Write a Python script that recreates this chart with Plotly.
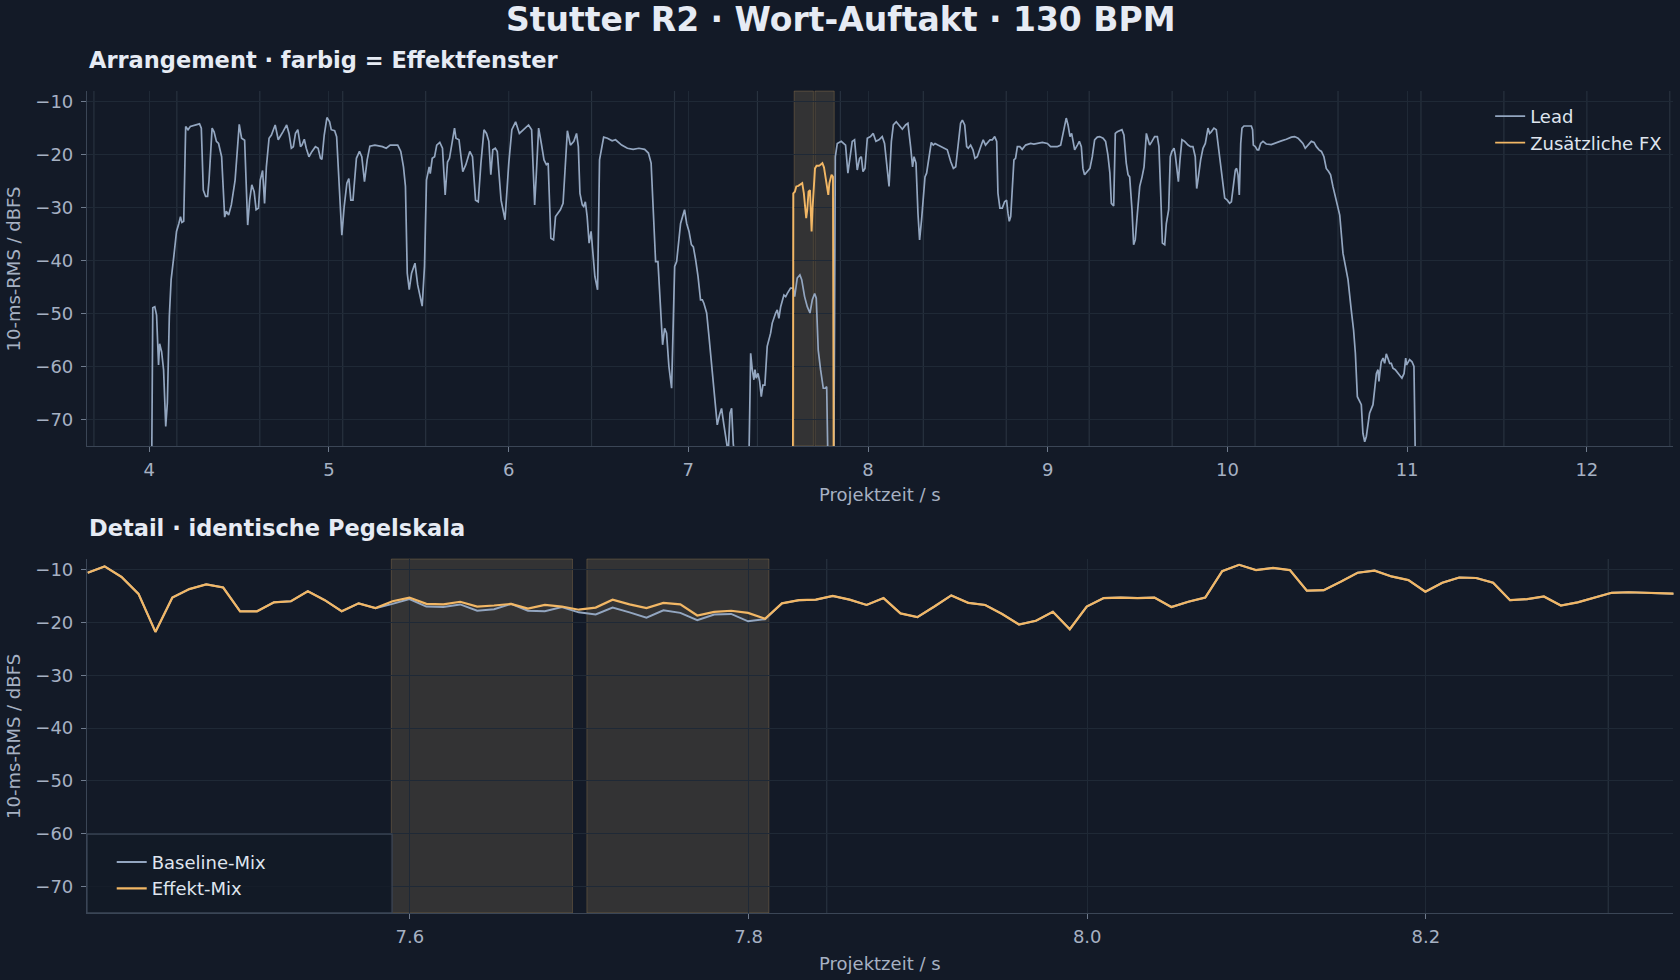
import math
import plotly.graph_objects as go

BPM = 130

# Arrangement: Lead-Spur, 10-ms-RMS in dBFS (Stützpunkte aus dem Verlauf)
lead_t = [
    4.014, 4.020, 4.031, 4.041, 4.052, 4.058, 4.069, 4.080, 4.092, 4.101,
    4.112, 4.122, 4.137, 4.152, 4.165, 4.174, 4.182, 4.192, 4.203, 4.216,
    4.229, 4.254, 4.280, 4.290, 4.301, 4.314, 4.325, 4.333, 4.350, 4.361,
    4.374, 4.386, 4.403, 4.420, 4.429, 4.442, 4.457, 4.478, 4.501, 4.514,
    4.531, 4.548, 4.559, 4.571, 4.584, 4.595, 4.608, 4.618, 4.631, 4.642,
    4.652, 4.667, 4.680, 4.701, 4.718, 4.744, 4.765, 4.778, 4.791, 4.802,
    4.814, 4.827, 4.842, 4.850, 4.863, 4.874, 4.889, 4.906, 4.925, 4.940,
    4.953, 4.961, 4.974, 4.989, 5.004, 5.013, 5.032, 5.043, 5.055, 5.064,
    5.072, 5.085, 5.100, 5.111, 5.122, 5.134, 5.143, 5.153, 5.170, 5.183,
    5.198, 5.213, 5.228, 5.256, 5.298, 5.319, 5.341, 5.383, 5.400, 5.415,
    5.426, 5.436, 5.447, 5.460, 5.479, 5.494, 5.519, 5.532, 5.543, 5.558,
    5.564, 5.575, 5.588, 5.600, 5.617, 5.632, 5.647, 5.660, 5.671, 5.686,
    5.699, 5.707, 5.724, 5.745, 5.762, 5.784, 5.799, 5.816, 5.831, 5.846,
    5.863, 5.877, 5.890, 5.901, 5.912, 5.926, 5.937, 5.958, 5.980, 6.001,
    6.018, 6.039, 6.060, 6.086, 6.111, 6.128, 6.145, 6.154, 6.167, 6.182,
    6.197, 6.210, 6.220, 6.235, 6.250, 6.261, 6.278, 6.288, 6.303, 6.316,
    6.327, 6.344, 6.363, 6.378, 6.388, 6.397, 6.410, 6.418, 6.427, 6.437,
    6.448, 6.459, 6.469, 6.480, 6.495, 6.506, 6.529, 6.550, 6.576, 6.595,
    6.629, 6.661, 6.693, 6.725, 6.757, 6.778, 6.793, 6.805, 6.818, 6.831,
    6.842, 6.857, 6.868, 6.879, 6.892, 6.907, 6.924, 6.935, 6.957, 6.979,
    6.991, 7.004, 7.017, 7.028, 7.041, 7.054, 7.068, 7.078, 7.087, 7.102,
    7.115, 7.133, 7.152, 7.161, 7.174, 7.185, 7.198, 7.213, 7.222, 7.232,
    7.241, 7.250, 7.263, 7.337, 7.343, 7.347, 7.356, 7.365, 7.371, 7.378,
    7.388, 7.397, 7.406, 7.415, 7.426, 7.439, 7.458, 7.467, 7.486, 7.495,
    7.504, 7.514, 7.532, 7.542, 7.551, 7.569, 7.584, 7.592, 7.606, 7.621,
    7.631, 7.647, 7.662, 7.677, 7.690, 7.703, 7.712, 7.723, 7.736, 7.751,
    7.762, 7.770, 7.777, 7.810, 7.818, 7.829, 7.851, 7.875, 7.888, 7.899,
    7.912, 7.925, 7.940, 7.953, 7.963, 7.972, 7.983, 7.996, 8.014, 8.029,
    8.044, 8.061, 8.079, 8.092, 8.104, 8.117, 8.130, 8.141, 8.157, 8.172,
    8.191, 8.209, 8.222, 8.237, 8.248, 8.256, 8.267, 8.278, 8.287, 8.298,
    8.308, 8.317, 8.326, 8.339, 8.352, 8.363, 8.373, 8.389, 8.404, 8.423,
    8.441, 8.460, 8.475, 8.488, 8.500, 8.515, 8.525, 8.538, 8.549, 8.558,
    8.571, 8.584, 8.595, 8.608, 8.627, 8.641, 8.654, 8.664, 8.679, 8.692,
    8.705, 8.716, 8.723, 8.734, 8.747, 8.760, 8.771, 8.779, 8.786, 8.794,
    8.805, 8.812, 8.821, 8.831, 8.845, 8.858, 8.877, 8.905, 8.923, 8.942,
    8.970, 8.998, 9.016, 9.035, 9.053, 9.072, 9.085, 9.094, 9.103, 9.113,
    9.124, 9.133, 9.142, 9.150, 9.165, 9.176, 9.187, 9.196, 9.205, 9.220,
    9.235, 9.248, 9.261, 9.276, 9.289, 9.308, 9.322, 9.335, 9.346, 9.354,
    9.367, 9.376, 9.387, 9.413, 9.424, 9.437, 9.447, 9.456, 9.469, 9.478,
    9.487, 9.499, 9.512, 9.525, 9.536, 9.549, 9.558, 9.567, 9.580, 9.595,
    9.610, 9.619, 9.628, 9.638, 9.651, 9.660, 9.673, 9.682, 9.691, 9.703,
    9.710, 9.719, 9.727, 9.736, 9.747, 9.762, 9.781, 9.795, 9.808, 9.821,
    9.829, 9.836, 9.851, 9.864, 9.877, 9.892, 9.901, 9.910, 9.925, 9.938,
    9.947, 9.962, 9.975, 9.985, 9.999, 10.012, 10.022, 10.033, 10.044, 10.051,
    10.059, 10.066, 10.074, 10.081, 10.092, 10.114, 10.133, 10.140, 10.144, 10.155,
    10.166, 10.174, 10.185, 10.198, 10.216, 10.244, 10.272, 10.300, 10.328, 10.356,
    10.374, 10.393, 10.407, 10.420, 10.433, 10.448, 10.467, 10.482, 10.495, 10.510,
    10.523, 10.537, 10.550, 10.563, 10.574, 10.587, 10.606, 10.625, 10.643, 10.656,
    10.671, 10.689, 10.702, 10.712, 10.723, 10.736, 10.745, 10.754, 10.764, 10.773,
    10.791, 10.810, 10.819, 10.829, 10.838, 10.843, 10.849, 10.856, 10.866, 10.875,
    10.884, 10.893, 10.903, 10.912, 10.921, 10.934, 10.949, 10.960, 10.971, 10.983,
    10.992, 10.997, 11.005, 11.014, 11.027, 11.038, 11.046,
]
lead_db = [
    -78.0, -48.9, -48.7, -50.3, -59.7, -55.7, -57.2, -60.6, -71.3, -66.9,
    -50.6, -43.6, -39.2, -34.5, -33.0, -31.7, -32.8, -32.6, -14.7, -15.3,
    -14.7, -14.4, -14.2, -15.0, -26.7, -27.9, -27.9, -24.8, -15.0, -15.7,
    -17.5, -17.9, -20.4, -31.8, -30.7, -31.4, -29.5, -24.8, -14.3, -16.9,
    -17.3, -33.3, -28.6, -25.7, -27.0, -30.4, -30.1, -24.8, -23.0, -29.2,
    -22.3, -16.9, -16.3, -14.4, -17.2, -15.7, -14.4, -16.0, -18.8, -18.5,
    -16.0, -15.3, -18.5, -18.2, -17.1, -18.8, -20.4, -19.4, -18.5, -18.8,
    -20.7, -20.9, -16.3, -13.0, -13.8, -15.3, -15.5, -16.6, -24.8, -32.0,
    -35.2, -29.8, -25.4, -24.5, -28.6, -28.6, -24.8, -20.7, -19.4, -20.4,
    -25.1, -21.0, -18.4, -18.2, -18.5, -18.8, -18.2, -18.2, -19.4, -22.3,
    -26.0, -42.4, -45.5, -42.4, -40.5, -44.6, -48.6, -41.1, -24.8, -22.3,
    -23.6, -20.7, -20.4, -18.2, -17.7, -18.8, -27.6, -21.4, -20.7, -17.2,
    -15.0, -16.9, -17.2, -23.2, -21.9, -19.4, -20.4, -28.6, -28.9, -21.6,
    -15.3, -16.0, -17.5, -23.8, -19.1, -18.8, -19.4, -28.6, -32.3, -21.6,
    -15.3, -13.8, -16.0, -15.2, -14.4, -15.3, -29.5, -23.8, -15.0, -17.9,
    -21.0, -21.9, -21.6, -35.8, -36.1, -31.7, -30.8, -30.4, -29.2, -21.6,
    -15.5, -18.2, -17.5, -16.0, -18.5, -27.3, -29.5, -29.8, -28.9, -31.7,
    -36.7, -34.5, -39.2, -43.0, -45.5, -21.0, -16.7, -16.9, -17.4, -17.2,
    -18.2, -18.8, -19.0, -18.8, -19.0, -19.7, -21.6, -31.1, -40.2, -40.2,
    -46.2, -55.9, -52.8, -53.7, -60.0, -64.1, -41.1, -40.2, -33.0, -30.4,
    -33.0, -34.5, -37.0, -37.4, -39.9, -43.0, -47.4, -47.4, -48.1, -49.9,
    -54.3, -61.3, -68.8, -71.0, -69.1, -67.9, -71.0, -74.5, -76.4, -68.8,
    -67.9, -74.5, -78.2, -78.2, -68.8, -57.5, -60.6, -62.5, -60.6, -62.2,
    -61.3, -62.8, -65.7, -63.5, -63.5, -56.2, -53.7, -51.8, -49.9, -49.3,
    -50.9, -48.7, -46.5, -46.8, -46.2, -45.2, -45.2, -46.8, -43.3, -42.7,
    -43.6, -46.8, -48.7, -49.9, -47.4, -46.2, -47.1, -56.9, -60.6, -64.1,
    -64.1, -63.8, -78.2, -78.2, -20.4, -17.9, -17.5, -18.2, -23.5, -20.4,
    -17.5, -17.2, -22.9, -20.7, -20.4, -23.2, -22.6, -16.9, -16.6, -16.0,
    -17.5, -17.2, -16.6, -17.9, -22.3, -26.0, -17.5, -14.4, -13.8, -14.4,
    -15.2, -14.4, -14.1, -18.5, -22.3, -20.4, -21.6, -31.1, -36.1, -32.3,
    -27.9, -24.2, -23.5, -20.1, -17.7, -18.2, -17.9, -18.2, -18.5, -18.8,
    -19.1, -21.3, -22.6, -22.3, -19.1, -14.1, -13.5, -14.4, -18.5, -18.8,
    -18.2, -19.1, -20.7, -20.4, -18.5, -17.2, -18.2, -17.7, -17.2, -17.2,
    -16.6, -17.5, -27.3, -30.1, -30.1, -28.9, -28.6, -31.1, -32.6, -31.7,
    -23.5, -21.0, -20.7, -18.5, -18.5, -19.0, -18.2, -17.9, -18.0, -17.9,
    -17.7, -17.9, -18.5, -18.5, -18.5, -18.2, -16.0, -14.7, -13.1, -14.4,
    -16.6, -16.0, -17.5, -19.1, -18.2, -17.5, -18.5, -22.6, -23.8, -23.2,
    -22.6, -20.4, -17.2, -16.7, -16.6, -16.9, -17.5, -20.1, -23.5, -29.2,
    -29.7, -16.0, -15.7, -15.3, -16.3, -21.6, -23.8, -24.2, -30.4, -37.0,
    -36.1, -31.1, -26.0, -24.2, -22.3, -16.0, -17.2, -18.2, -17.5, -16.6,
    -16.6, -18.5, -26.7, -36.7, -37.0, -33.0, -30.4, -20.4, -19.4, -18.8,
    -20.1, -22.3, -25.1, -21.0, -17.2, -17.5, -18.2, -18.5, -18.5, -20.4,
    -26.4, -24.8, -21.0, -18.8, -17.9, -15.0, -16.0, -15.7, -15.0, -15.3,
    -17.9, -21.9, -26.0, -28.2, -28.6, -29.2, -28.9, -26.0, -22.9, -22.6,
    -23.8, -27.6, -17.9, -15.0, -14.6, -14.6, -14.6, -15.3, -18.2, -18.5,
    -19.1, -19.1, -17.9, -17.5, -18.0, -18.1, -17.7, -17.4, -17.1, -16.7,
    -16.6, -16.9, -17.4, -17.9, -18.8, -18.2, -17.5, -17.7, -18.5, -19.1,
    -19.4, -20.4, -22.6, -23.2, -23.8, -26.0, -28.6, -31.4, -38.6, -40.8,
    -43.6, -49.3, -53.1, -57.5, -65.7, -66.6, -67.2, -72.6, -74.2, -73.2,
    -68.8, -67.2, -63.8, -61.3, -60.6, -62.8, -60.9, -59.1, -58.4, -59.4,
    -57.6, -58.4, -59.4, -59.4, -60.3, -60.6, -61.3, -61.9, -62.2, -61.3,
    -58.4, -59.7, -59.1, -58.7, -59.1, -60.0, -78.2,
]

# Zusätzliche FX im Effektfenster
fx_t = [
    7.582, 7.584, 7.593, 7.601, 7.612, 7.621, 7.634, 7.643, 7.651, 7.656,
    7.662, 7.669, 7.677, 7.681, 7.686, 7.692, 7.699, 7.705, 7.714, 7.727,
    7.736, 7.746, 7.755, 7.764, 7.773, 7.779, 7.785, 7.792, 7.797, 7.805,
    7.809,
]
fx_db = [
    -80.0, -27.3, -27.0, -26.0, -25.9, -25.7, -25.4, -27.3, -29.8, -32.0,
    -30.4, -27.0, -26.7, -31.1, -34.5, -29.8, -24.8, -22.6, -22.1, -22.1,
    -21.9, -21.6, -22.4, -24.2, -26.7, -27.6, -25.4, -24.2, -23.8, -24.2,
    -80.0,
]

# Effektfenster (s)
win_start = [7.589, 7.7045]
win_end = [7.696, 7.812]

# Detail: 10-ms-Frames ab detail_t0
detail_t0 = 7.4097
detail_hop = 0.01
baseline_db = [
    -10.6, -9.4, -11.4, -14.6, -21.8, -15.3, -13.7, -12.8, -13.4, -17.9,
    -17.9, -16.2, -16.0, -14.1, -15.8, -17.9, -16.4, -17.3, -16.5, -15.6,
    -17.0, -17.1, -16.6, -17.8, -17.5, -16.5, -17.8, -17.9, -17.1, -18.1,
    -18.5, -17.2, -18.1, -19.1, -17.7, -18.2, -19.6, -18.5, -18.4, -19.8,
    -19.4, -16.4, -15.8, -15.7, -15.0, -15.7, -16.7, -15.4, -18.3, -19.0,
    -17.0, -14.9, -16.3, -16.7, -18.4, -20.4, -19.7, -18.0, -21.3, -17.0,
    -15.4, -15.3, -15.4, -15.3, -17.1, -16.1, -15.3, -10.3, -9.1, -10.1,
    -9.7, -10.1, -14.0, -13.9, -12.3, -10.6, -10.2, -11.3, -12.0, -14.2,
    -12.5, -11.5, -11.6, -12.5, -15.8, -15.6, -15.1, -16.8, -16.2, -15.3,
    -14.4, -14.3, -14.4, -14.6, -14.6,
]
effekt_db = [
    -10.6, -9.4, -11.4, -14.6, -21.8, -15.3, -13.7, -12.8, -13.4, -17.9,
    -17.9, -16.2, -16.0, -14.1, -15.8, -17.9, -16.4, -17.3, -16.0, -15.3,
    -16.5, -16.6, -16.1, -17.0, -16.8, -16.5, -17.4, -16.7, -17.0, -17.6,
    -17.2, -15.7, -16.6, -17.3, -16.3, -16.6, -18.7, -18.0, -17.8, -18.2,
    -19.3, -16.4, -15.8, -15.7, -15.0, -15.7, -16.7, -15.4, -18.3, -19.0,
    -17.0, -14.9, -16.3, -16.7, -18.4, -20.4, -19.7, -18.0, -21.3, -17.0,
    -15.4, -15.3, -15.4, -15.3, -17.1, -16.1, -15.3, -10.3, -9.1, -10.1,
    -9.7, -10.1, -14.0, -13.9, -12.3, -10.6, -10.2, -11.3, -12.0, -14.2,
    -12.5, -11.5, -11.6, -12.5, -15.8, -15.6, -15.1, -16.8, -16.2, -15.3,
    -14.4, -14.3, -14.4, -14.6, -14.6,
]
detail_t = [round(detail_t0 + i * detail_hop, 4) for i in range(len(effekt_db))]

BG = "#131a27"
GRID = "#1f2936"
BEAT = "#28323f"
SPINE = "#3b4656"
TICK = "#a6b1c3"
TITLE = "#e6ebf4"
LEAD = "#93a6c0"
FX = "#f2b765"
FONT = "DejaVu Sans"

fig = go.Figure()

fig.add_trace(go.Scatter(x=lead_t, y=lead_db, mode="lines", name="Lead",
                         line=dict(color=LEAD, width=1.7),
                         xaxis="x", yaxis="y", legend="legend"))
fig.add_trace(go.Scatter(x=fx_t, y=fx_db, mode="lines", name="Zusätzliche FX",
                         line=dict(color=FX, width=1.9),
                         xaxis="x", yaxis="y", legend="legend"))
fig.add_trace(go.Scatter(x=detail_t, y=baseline_db, mode="lines", name="Baseline-Mix",
                         line=dict(color=LEAD, width=2),
                         xaxis="x2", yaxis="y2", legend="legend2"))
fig.add_trace(go.Scatter(x=detail_t, y=effekt_db, mode="lines", name="Effekt-Mix",
                         line=dict(color=FX, width=2.2),
                         xaxis="x2", yaxis="y2", legend="legend2"))

top_range = [3.654, 12.482]
det_range = [7.4093, 8.3462]

# Taktschläge als senkrechte Linien
beat = 60.0 / BPM
shapes = []
for xref, rng in (("x", top_range), ("x2", det_range)):
    k0 = math.ceil(rng[0] / beat)
    k1 = math.floor(rng[1] / beat)
    for k in range(k0, k1 + 1):
        shapes.append(dict(type="line", xref=xref, yref=xref.replace("x", "y") + " domain",
                           x0=k * beat, x1=k * beat, y0=0, y1=1,
                           line=dict(color=BEAT, width=1.2), layer="below"))

# Effektfenster
for xref in ("x", "x2"):
    for a, b in zip(win_start, win_end):
        shapes.append(dict(type="rect", xref=xref, yref=xref.replace("x", "y") + " domain",
                           x0=a, x1=b, y0=0, y1=1,
                           fillcolor="rgba(232,195,125,0.15)",
                           line=dict(color="rgba(240,185,105,0.22)", width=1),
                           layer="below"))

# Legendenrahmen unten links
shapes.append(dict(type="rect", xref="x2 domain", yref="y2 domain",
                   x0=0, x1=0.1923, y0=0, y1=0.223,
                   fillcolor="rgba(19,26,39,0.8)",
                   line=dict(color=SPINE, width=1.2), layer="above"))

axis_common = dict(showgrid=True, gridcolor=GRID, gridwidth=1, zeroline=False,
                   showline=True, linecolor=SPINE, linewidth=1.2,
                   ticks="outside", ticklen=5, tickwidth=1.2, tickcolor="#6f7b8d",
                   tickfont=dict(family=FONT, size=18, color=TICK))

fig.update_layout(
    width=1680, height=980,
    margin=dict(l=0, r=0, t=0, b=0),
    paper_bgcolor=BG, plot_bgcolor=BG,
    font=dict(family=FONT, size=18, color=TICK),
    xaxis=dict(domain=[0.0518, 0.9961], anchor="y", range=top_range,
               tick0=0, dtick=1, ticklabelstandoff=2, **axis_common),
    yaxis=dict(domain=[0.5449, 0.9071], anchor="x", range=[-75, -8],
               tick0=0, dtick=10, ticklabelstandoff=4, **axis_common),
    xaxis2=dict(domain=[0.0518, 0.9961], anchor="y2", range=det_range,
                tick0=0, dtick=0.2, tickformat=".1f", ticklabelstandoff=2, **axis_common),
    yaxis2=dict(domain=[0.0684, 0.4296], anchor="x2", range=[-75, -8],
                tick0=0, dtick=10, ticklabelstandoff=4, **axis_common),
    shapes=shapes,
    showlegend=True,
    legend=dict(x=0.887, y=0.9, xanchor="left", yanchor="top",
                bgcolor="rgba(0,0,0,0)", borderwidth=0,
                font=dict(family=FONT, size=18, color="#dfe5ee")),
    legend2=dict(x=0.0665, y=0.139, xanchor="left", yanchor="top",
                 bgcolor="rgba(0,0,0,0)", borderwidth=0,
                 font=dict(family=FONT, size=18, color="#dfe5ee")),
)

annotations = [
    dict(text="Stutter R2 · Wort-Auftakt · 130 BPM", x=0.5, y=0.9806,
         xanchor="center", yanchor="middle",
         font=dict(family=FONT, size=33, color=TITLE, weight="bold")),
    dict(text="Arrangement · farbig = Effektfenster", x=0.0518, y=0.9388,
         xanchor="left", yanchor="middle",
         font=dict(family=FONT, size=22.5, color=TITLE, weight="bold")),
    dict(text="Detail · identische Pegelskala", x=0.0518, y=0.4612,
         xanchor="left", yanchor="middle",
         font=dict(family=FONT, size=22.5, color=TITLE, weight="bold")),
    dict(text="Projektzeit / s", x=0.5238, y=0.4949, xanchor="center", yanchor="middle",
         font=dict(family=FONT, size=18, color=TICK)),
    dict(text="Projektzeit / s", x=0.5238, y=0.0173, xanchor="center", yanchor="middle",
         font=dict(family=FONT, size=18, color=TICK)),
    dict(text="10-ms-RMS / dBFS", x=0.0083, y=0.726, textangle=-90,
         xanchor="center", yanchor="middle",
         font=dict(family=FONT, size=18, color=TICK)),
    dict(text="10-ms-RMS / dBFS", x=0.0083, y=0.249, textangle=-90,
         xanchor="center", yanchor="middle",
         font=dict(family=FONT, size=18, color=TICK)),
]
for a in annotations:
    a.update(xref="paper", yref="paper", showarrow=False)
fig.update_layout(annotations=annotations)

# Seitenrand entfernen, damit die Grafik das Fenster füllt
fig.write_html("out.html",
               config={"displayModeBar": False},
               post_script="document.body.style.margin='0';"
                           "document.body.style.background='#131a27';")
